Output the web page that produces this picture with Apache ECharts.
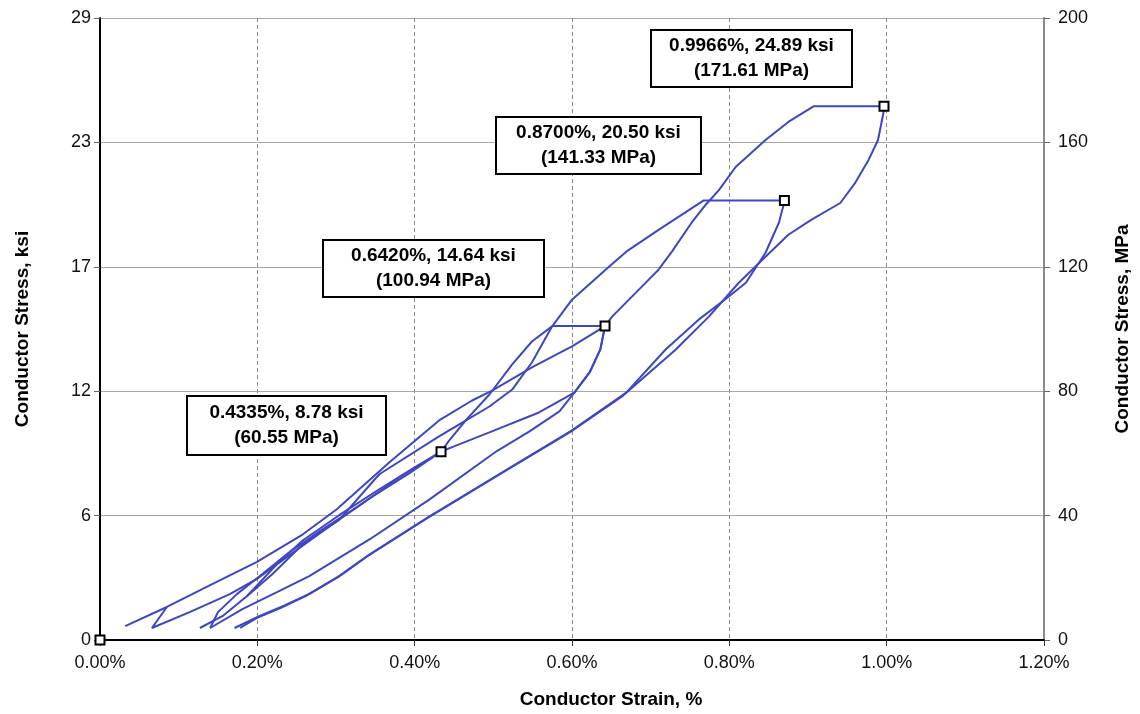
<!DOCTYPE html>
<html>
<head>
<meta charset="utf-8">
<script src="https://cdn.jsdelivr.net/npm/echarts@6/dist/echarts.min.js"></script>
<style>
html,body{margin:0;padding:0;background:#ffffff;}
#chart{width:1140px;height:714px;}
</style>
</head>
<body>
<div id="chart"></div>
<script>
// ---------- data (strain in %, stress in ksi) ----------
const MPA_PER_KSI = 6.894757;
const mpaMax = 200;
const mpaInterval = 40;
const strainMax = 1.2;
const strainInterval = 0.2;

// upper loading branch ending at the 0.642 % point
const loadUpper = [[0.032,0.65],[0.085,1.54],[0.140,2.56],[0.199,3.63],[0.258,4.93],[0.301,6.10],[0.368,8.29],[0.431,10.24],[0.473,11.17],[0.499,11.64],[0.549,12.71],[0.600,13.69],[0.642,14.64]];
// first cycle to 0.4335 %
const cycle1 = [[0.085,1.54],[0.066,0.56],[0.114,1.30],[0.165,2.14],[0.199,2.84],[0.241,3.96],[0.292,5.31],[0.343,6.61],[0.393,7.77],[0.4335,8.78]];
// second loading, through first peak, hold at 14.64 ksi
const cycle2 = [[0.127,0.56],[0.156,1.12],[0.187,2.05],[0.225,3.54],[0.258,4.65],[0.304,5.82],[0.355,7.03],[0.400,8.05],[0.4335,8.78],[0.444,9.31],[0.466,10.29],[0.495,11.45],[0.524,12.85],[0.549,13.92],[0.575,14.64],[0.642,14.64]];
// unloading from 0.642 %
const unload2 = [[0.642,14.64],[0.636,13.55],[0.623,12.52],[0.603,11.54],[0.558,10.61],[0.495,9.68],[0.450,9.03],[0.4335,8.78],[0.381,7.59],[0.330,6.28],[0.279,5.07],[0.241,4.10],[0.206,3.07],[0.174,2.14],[0.150,1.30],[0.140,0.56]];
// third loading, hold at 20.50 ksi
const cycle3 = [[0.187,2.05],[0.219,3.07],[0.258,4.47],[0.304,5.60],[0.355,7.73],[0.431,9.50],[0.461,10.15],[0.495,10.89],[0.524,11.68],[0.549,12.94],[0.575,14.64],[0.600,15.87],[0.647,17.41],[0.669,18.11],[0.710,19.13],[0.7675,20.50],[0.870,20.50]];
// unloading from 0.870 %
const unload3 = [[0.870,20.50],[0.869,20.30],[0.863,19.46],[0.846,18.06],[0.821,16.66],[0.799,16.01],[0.761,14.94],[0.719,13.55],[0.669,11.54],[0.600,9.78],[0.524,8.10],[0.419,5.77],[0.343,4.00],[0.305,3.00],[0.266,2.15],[0.234,1.60],[0.203,1.12],[0.171,0.56]];
// fourth loading, hold at 24.89 ksi
const cycle4 = [[0.140,0.56],[0.181,1.44],[0.225,2.23],[0.266,2.98],[0.343,4.70],[0.419,6.56],[0.504,8.80],[0.546,9.73],[0.584,10.66],[0.603,11.54],[0.623,12.52],[0.636,13.55],[0.642,14.64],[0.651,15.08],[0.685,16.34],[0.710,17.27],[0.727,18.11],[0.752,19.46],[0.770,20.30],[0.787,20.99],[0.808,22.06],[0.846,23.32],[0.875,24.16],[0.907,24.89],[0.9966,24.89]];
// unloading from 0.9966 %
const unload4 = [[0.9966,24.89],[0.996,24.60],[0.989,23.32],[0.977,22.39],[0.960,21.32],[0.941,20.38],[0.904,19.59],[0.875,18.90],[0.846,17.87],[0.812,16.66],[0.774,15.08],[0.732,13.55],[0.665,11.40],[0.597,9.68],[0.521,8.01],[0.416,5.68],[0.340,3.91],[0.302,2.92],[0.262,2.06],[0.230,1.50],[0.199,1.02],[0.178,0.56]];

// marked points
const peakPoints = [[0,0],[0.4335,8.78],[0.642,14.64],[0.870,20.50],[0.9966,24.89]];
const peakLabels = [
  ['0.4335%, 8.78 ksi','(60.55 MPa)'],
  ['0.6420%, 14.64 ksi','(100.94 MPa)'],
  ['0.8700%, 20.50 ksi','(141.33 MPa)'],
  ['0.9966%, 24.89 ksi','(171.61 MPa)']
];

// ---------- layout ----------
const FONT = '"Liberation Sans", Arial, sans-serif';
const LINE_COLOR = '#3f47c0';
const boxLayout = [[187,396,199,59],[323,240,221,57],[496,117,205,57],[651,30,201,57]];

const ksiMax = mpaMax / MPA_PER_KSI;
const ksiInterval = mpaInterval / MPA_PER_KSI;

const strokes = [loadUpper, cycle1, cycle2, unload2, cycle3, unload3, cycle4, unload4];

const series = strokes.map(d => ({
  type: 'line',
  data: d,
  yAxisIndex: 0,
  showSymbol: false,
  symbol: 'none',
  smooth: false,
  lineStyle: {color: LINE_COLOR, width: 2},
  emphasis: {disabled: true},
  z: 3
}));
series.push({
  type: 'scatter',
  data: peakPoints,
  yAxisIndex: 0,
  symbol: 'rect',
  symbolSize: 9,
  itemStyle: {color: '#ffffff', borderColor: '#000000', borderWidth: 2, opacity: 1},
  emphasis: {disabled: true},
  clip: false,
  z: 5
});

const graphics = peakLabels.map((lines, i) => {
  const [x, y, w, h] = boxLayout[i];
  return {
    type: 'group',
    children: [
      {type: 'rect', shape: {x: x, y: y, width: w, height: h},
       style: {fill: '#ffffff', stroke: '#000000', lineWidth: 2}, z: 10},
      {type: 'text', x: x + w / 2, y: y + h / 2, z: 11,
       style: {text: lines.join('\n'), align: 'center', verticalAlign: 'middle',
                fontSize: 19, fontWeight: 'bold', fontFamily: FONT, fill: '#000000', lineHeight: 25}}
    ]
  };
});

const chart = echarts.init(document.getElementById('chart'), null, {renderer: 'canvas'});
chart.setOption({
  animation: false,
  backgroundColor: '#ffffff',
  grid: {left: 100, right: 94, top: 18, bottom: 73, containLabel: false},
  xAxis: {
    type: 'value', min: 0, max: strainMax, interval: strainInterval,
    name: 'Conductor Strain, %', nameLocation: 'middle', nameGap: 50,
    nameTextStyle: {fontSize: 19, fontWeight: 'bold', fontFamily: FONT, color: '#000', padding: [0,0,0,78]},
    axisLine: {show: true, onZero: false, lineStyle: {color: '#000', width: 2}},
    axisTick: {show: true, length: 6, lineStyle: {color: '#333', width: 1}},
    axisLabel: {fontSize: 18, fontFamily: FONT, color: '#111', margin: 14,
                formatter: v => v.toFixed(2) + '%'},
    splitLine: {show: true, lineStyle: {color: '#8a8a8a', width: 1, type: [4, 3]}}
  },
  yAxis: [
    {
      type: 'value', position: 'left', min: 0, max: ksiMax, interval: ksiInterval,
      name: 'Conductor Stress, ksi', nameLocation: 'middle', nameGap: 68, nameRotate: 90,
      nameTextStyle: {fontSize: 19, fontWeight: 'bold', fontFamily: FONT, color: '#000'},
      axisLine: {show: true, onZero: false, lineStyle: {color: '#000', width: 2}},
      axisTick: {show: true, length: 6, lineStyle: {color: '#666', width: 1}},
      axisLabel: {fontSize: 18, fontFamily: FONT, color: '#111', margin: 9,
                  formatter: v => String(Math.round(v))},
      splitLine: {show: true, lineStyle: {color: '#a8a8a8', width: 1}}
    },
    {
      type: 'value', position: 'right', min: 0, max: mpaMax, interval: mpaInterval,
      name: 'Conductor Stress, MPa', nameLocation: 'middle', nameGap: 69, nameRotate: 90,
      nameTextStyle: {fontSize: 19, fontWeight: 'bold', fontFamily: FONT, color: '#000'},
      axisLine: {show: true, onZero: false, lineStyle: {color: '#8a8a8a', width: 2}},
      axisTick: {show: true, length: 6, lineStyle: {color: '#666', width: 1}},
      axisLabel: {fontSize: 18, fontFamily: FONT, color: '#111', margin: 14},
      splitLine: {show: false}
    }
  ],
  series: series,
  graphic: graphics
});
</script>
</body>
</html>
